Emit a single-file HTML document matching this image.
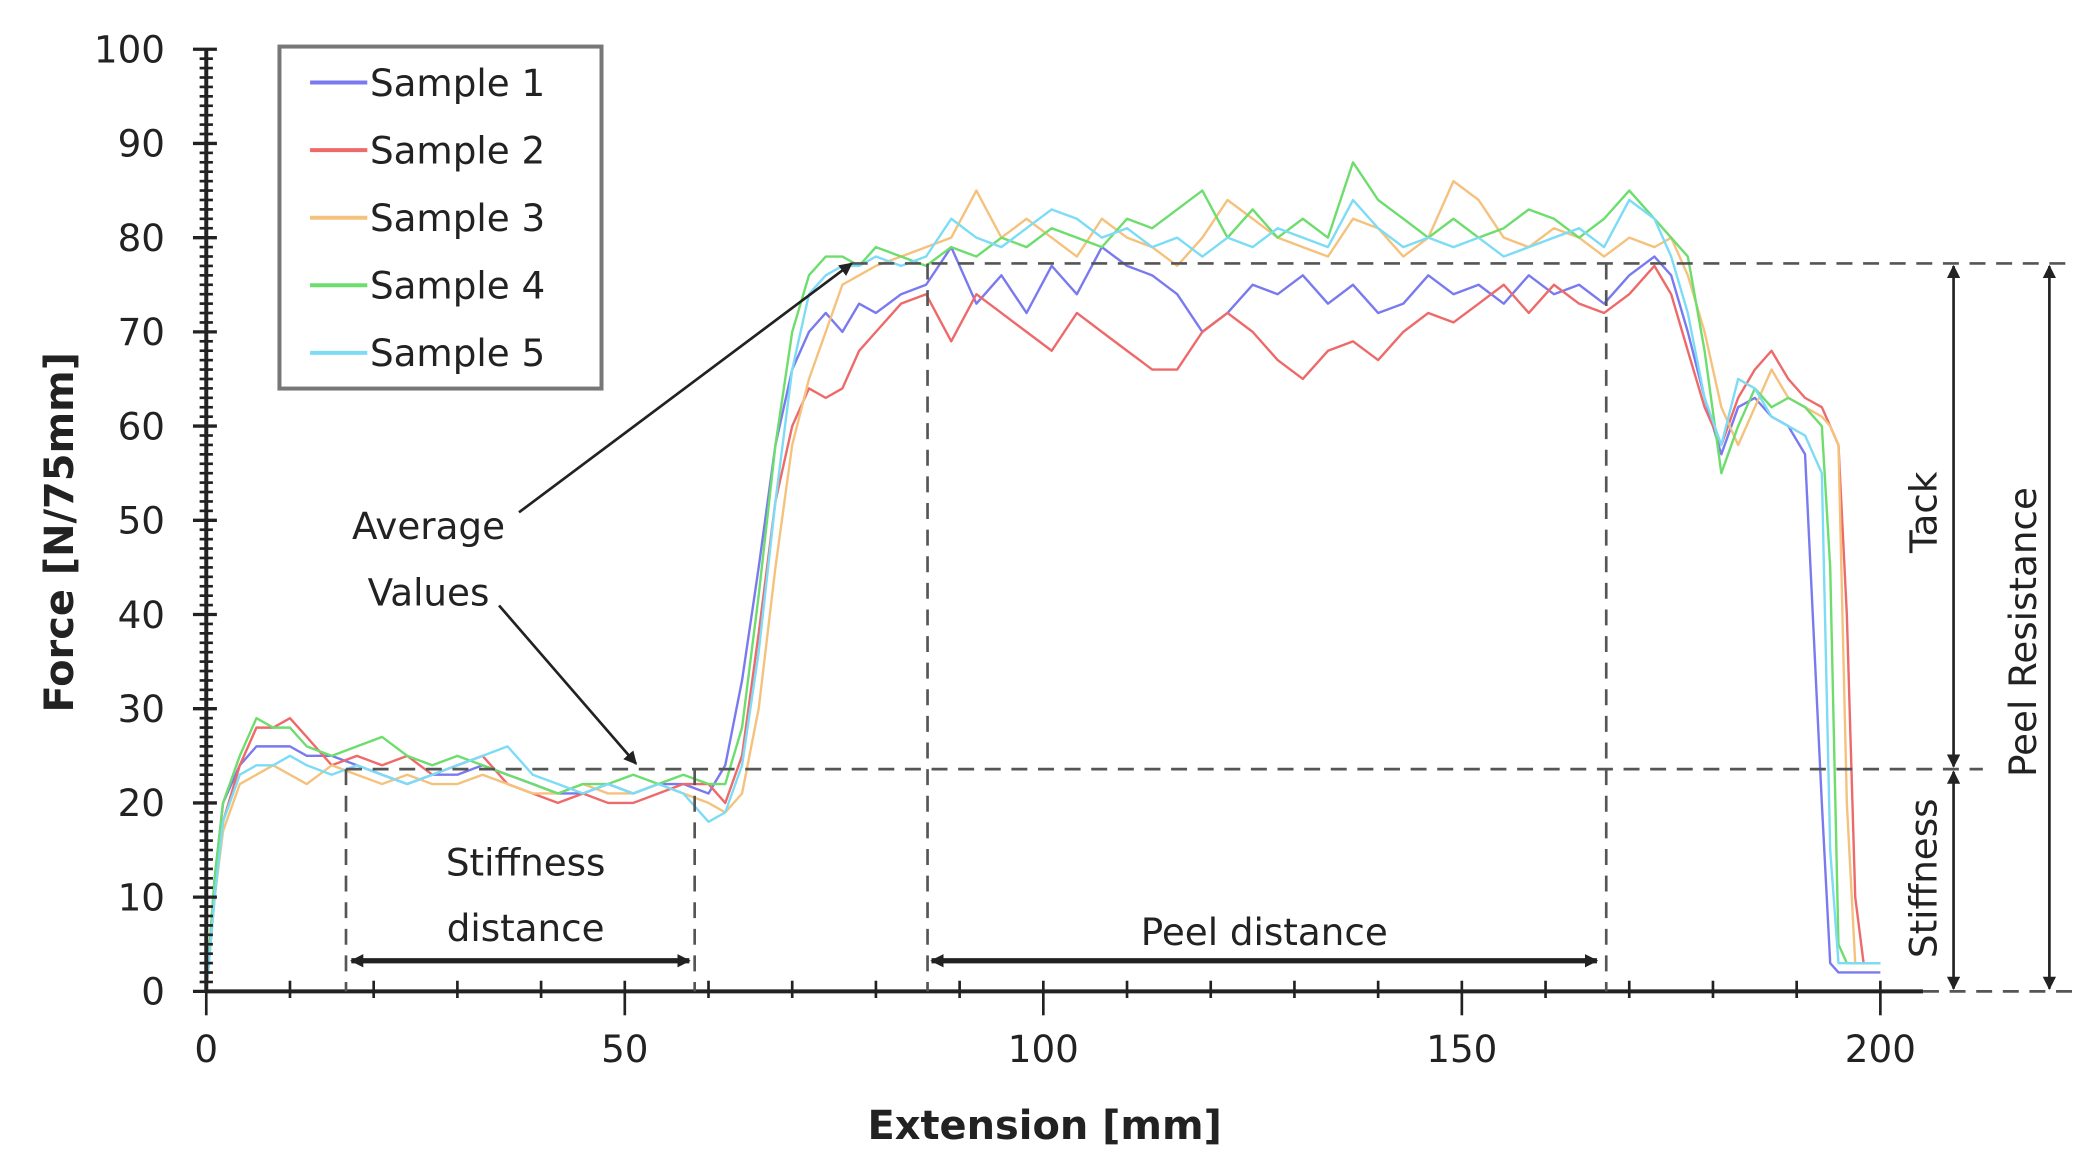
<!DOCTYPE html>
<html><head><meta charset="utf-8"><style>
html,body{margin:0;padding:0;background:#fff;}
svg{display:block;}
text{font-family:"DejaVu Sans","Liberation Sans",sans-serif;fill:#222;}
</style></head><body>
<svg id="chart" width="2076" height="1171" viewBox="0 0 1560 880" preserveAspectRatio="none" xmlns="http://www.w3.org/2000/svg">
<defs>
<marker id="ah" markerWidth="10" markerHeight="10" refX="9" refY="5" orient="auto-start-reverse" markerUnits="userSpaceOnUse"><path d="M0,0 L10,5 L0,10 z" fill="#222"/></marker>
</defs>
<g id="series"></g>
<g id="axes"></g>
<g id="annot"></g>
<g>
<rect x="210" y="35" width="242" height="257" fill="#fff" stroke="#777" stroke-width="3"/>
<g id="legendEntries"></g>
</g>
<text transform="translate(55,400) rotate(-90)" text-anchor="middle" font-size="30" font-weight="bold">Force [N/75mm]</text>
<text x="785" y="856" text-anchor="middle" font-size="30" font-weight="bold">Extension [mm]</text>
</svg>
<script>
const xs=[0,1,2,4,6,8,10,12,15,18,21,24,27,30,33,36,39,42,45,48,51,54,57,60,62,64,66,68,70,72,74,76,78,80,83,86,89,92,95,98,101,104,107,110,113,116,119,122,125,128,131,134,137,140,143,146,149,152,155,158,161,164,167,170,173,175,177,179,181,183,185,187,189,191,193,194,195,196,197,198,200];
const s1=[0,12,20,24,26,26,26,25,25,24,23,22,23,23,24,23,22,21,21,22,21,22,22,21,24,33,45,58,66,70,72,70,73,72,74,75,79,73,76,72,77,74,79,77,76,74,70,72,75,74,76,73,75,72,73,76,74,75,73,76,74,75,73,76,78,76,70,63,57,62,63,61,60,57,20,3,2,2,2,2,2];
const s2=[0,10,18,24,28,28,29,27,24,25,24,25,23,24,25,22,21,20,21,20,20,21,22,22,20,25,38,52,60,64,63,64,68,70,73,74,69,74,72,70,68,72,70,68,66,66,70,72,70,67,65,68,69,67,70,72,71,73,75,72,75,73,72,74,77,74,68,62,58,63,66,68,65,63,62,60,58,40,10,3,3];
const s3=[0,10,17,22,23,24,23,22,24,23,22,23,22,22,23,22,21,21,22,21,21,22,21,20,19,21,30,45,58,65,70,75,76,77,78,79,80,85,80,82,80,78,82,80,79,77,80,84,82,80,79,78,82,81,78,80,86,84,80,79,81,80,78,80,79,80,76,70,62,58,62,66,63,62,61,60,58,20,3,3,3];
const s4=[0,12,20,25,29,28,28,26,25,26,27,25,24,25,24,23,22,21,22,22,23,22,23,22,22,28,42,58,70,76,78,78,77,79,78,77,79,78,80,79,81,80,79,82,81,83,85,80,83,80,82,80,88,84,82,80,82,80,81,83,82,80,82,85,82,80,78,68,55,60,64,62,63,62,60,45,5,3,3,3,3];
const s5=[0,10,18,23,24,24,25,24,23,24,23,22,23,24,25,26,23,22,21,22,21,22,21,18,19,24,36,52,66,74,76,77,77,78,77,78,82,80,79,81,83,82,80,81,79,80,78,80,79,81,80,79,84,81,79,80,79,80,78,79,80,81,79,84,82,78,72,63,58,65,64,61,60,59,55,15,3,3,3,3,3];
const seriesNames=["Sample 1","Sample 2","Sample 3","Sample 4","Sample 5"];
const xTicks=[0,50,100,150,200];
const yTicks=[0,10,20,30,40,50,60,70,80,90,100];
const colors=["#7a7af0","#ee6a6a","#f5c27e","#6ddd6d","#7ddcf5"];
const allSeries=[s1,s2,s3,s4,s5];
const NS="http://www.w3.org/2000/svg";
function X(v){return 155+v*6.29;}
function Y(v){return 745-v*7.08;}
function mk(tag,attrs,parent){const e=document.createElementNS(NS,tag);for(const k in attrs)e.setAttribute(k,attrs[k]);parent.appendChild(e);return e;}
const sg=document.getElementById('series');
allSeries.forEach((s,i)=>{
  const d=s.map((v,j)=>(j?'L':'M')+X(xs[j]).toFixed(1)+','+Y(v).toFixed(1)).join(' ');
  const p=mk('path',{d:d,fill:'none',stroke:colors[i],'stroke-width':1.8,'stroke-linejoin':'round'},sg);
  
  
});
const ax=document.getElementById('axes');
const yl=mk('line',{x1:155,y1:Y(100),x2:155,y2:Y(0),stroke:'#222','stroke-width':3},ax);


const xl=mk('line',{x1:155,y1:Y(0),x2:1445,y2:Y(0),stroke:'#222','stroke-width':3},ax);


for(let v=0;v<=100;v++){const maj=v%10===0;mk('line',{x1:maj?145:150,y1:Y(v),x2:maj?163:160,y2:Y(v),stroke:'#222','stroke-width':maj?2.5:2},ax);}
for(let v=0;v<=200;v+=10){const maj=v%50===0;mk('line',{x1:X(v),y1:Y(0)-8,x2:X(v),y2:Y(0)+(maj?18:5),stroke:'#222','stroke-width':2},ax);}
yTicks.forEach(v=>{const t=mk('text',{x:124,y:Y(v)+10,'text-anchor':'end','font-size':28},ax);t.textContent=v;

});
xTicks.forEach(v=>{const t=mk('text',{x:X(v),y:798,'text-anchor':'middle','font-size':28},ax);t.textContent=v;

});
const le=document.getElementById('legendEntries');
seriesNames.forEach((n,i)=>{const y=62+i*50.8;
const l=mk('line',{x1:233,y1:y,x2:276,y2:y,stroke:colors[i],'stroke-width':3},le);


const t=mk('text',{x:278,y:y+10,'font-size':28},le);t.textContent=n;

});
const an=document.getElementById('annot');
const dash={stroke:'#555','stroke-width':2,'stroke-dasharray':'12,8',fill:'none'};
function dl(x1,y1,x2,y2){const o=Object.assign({x1,y1,x2,y2},dash);return mk('line',o,an);}
dl(640,198,1560,198);dl(260,578,1490,578);
dl(260,578,260,745);dl(522,578,522,745);dl(697,198,697,745);dl(1207,198,1207,745);
dl(1445,745,1560,745);
function ar(x1,y1,x2,y2,w,both){const o={x1,y1,x2,y2,stroke:'#222','stroke-width':w,'marker-end':'url(#ah)'};if(both)o['marker-start']='url(#ah)';return mk('line',o,an);}
ar(264,722,518,722,4,true);ar(700,722,1200,722,4,true);
ar(1468,200,1468,576,2,true);ar(1468,580,1468,743,2,true);ar(1540,200,1540,743,2,true);
ar(390,385,640,198,2,false);ar(375,455,478,574,2,false);
function tx(s,x,y,fs,rot){const t=mk('text',{x:x,y:y,'text-anchor':'middle','font-size':fs},an);if(rot)t.setAttribute('transform','rotate(-90 '+x+' '+y+')');t.textContent=s;return t;}
let t;
t=tx('Average',322,405,28);
t=tx('Values',322,455,28);
t=tx('Stiffness',395,658,28);
t=tx('distance',395,707,28);
t=tx('Peel distance',950,710,28);
t=tx('Tack',1455,385,28,true);
t=tx('Stiffness',1455,660,28,true);
t=tx('Peel Resistance',1530,475,28,true);
</script>
</body></html>
